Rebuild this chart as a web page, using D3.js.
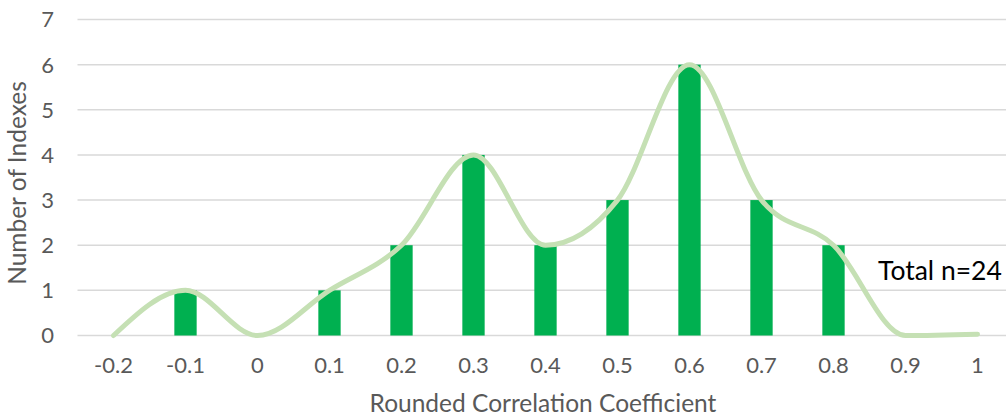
<!DOCTYPE html>
<html>
<head>
<meta charset="utf-8">
<script src="https://cdn.jsdelivr.net/npm/d3@7"></script>
<style>
  body { margin: 0; background: #fff; }
  text { font-family: Lato, "Open Sans", sans-serif; }
</style>
</head>
<body>
<div id="chart"></div>
<script>
// categories along the x axis (rounded correlation coefficient)
var categories = ["-0.2", "-0.1", "0", "0.1", "0.2", "0.3", "0.4", "0.5", "0.6", "0.7", "0.8", "0.9", "1"];
// counts per bin (bars); empty bins have no bar
var counts = [0, 1, 0, 1, 2, 4, 2, 3, 6, 3, 2, 0, 0];
// smoothed line drawn over the same values
var lineValues = [0, 1, 0, 1, 2, 4, 2, 3, 6, 3, 2, 0, 0.03];
var yTicks = [0, 1, 2, 3, 4, 5, 6, 7];

var width = 1006, height = 419;
var margin = {top: 19.5, left: 77.5, bottom: 83.5};
var plotW = 936; // 13 bands of 72px, runs past the right edge like the original

var svg = d3.select("#chart").append("svg")
  .attr("width", width)
  .attr("height", height);

var x = d3.scaleBand()
  .domain(categories)
  .range([margin.left, margin.left + plotW])
  .paddingInner(0.69)
  .paddingOuter(0.345);

var y = d3.scaleLinear()
  .domain([0, 7])
  .range([height - margin.bottom, margin.top]);

// gridlines
svg.append("g")
  .selectAll("line")
  .data(yTicks)
  .enter()
  .append("line")
  .attr("x1", margin.left)
  .attr("x2", width)
  .attr("y1", d => y(d))
  .attr("y2", d => y(d))
  .attr("stroke", "#d9d9d9")
  .attr("stroke-width", 1.5);

// y tick labels
svg.append("g")
  .selectAll("text")
  .data(yTicks)
  .enter()
  .append("text")
  .attr("x", 54)
  .attr("y", d => y(d))
  .attr("dy", "0.36em")
  .attr("text-anchor", "end")
  .attr("fill", "#595959")
  .style("font-size", "22px")
  .text(d => d);

// x tick labels
svg.append("g")
  .selectAll("text")
  .data(categories)
  .enter()
  .append("text")
  .attr("x", d => x(d) + x.bandwidth() / 2)
  .attr("y", 373)
  .attr("text-anchor", "middle")
  .attr("fill", "#595959")
  .style("font-size", "22px")
  .text(d => d);

// bars
svg.append("g")
  .selectAll("rect")
  .data(counts.map((v, i) => ({cat: categories[i], value: v})).filter(d => d.value > 0))
  .enter()
  .append("rect")
  .attr("x", d => x(d.cat))
  .attr("width", x.bandwidth())
  .attr("y", d => y(d.value))
  .attr("height", d => y(0) - y(d.value))
  .attr("fill", "#00b050");

// smoothed line
var line = d3.line()
  .x((d, i) => x(categories[i]) + x.bandwidth() / 2)
  .y(d => y(d))
  .curve(d3.curveMonotoneX);

svg.append("path")
  .datum(lineValues)
  .attr("d", line)
  .attr("fill", "none")
  .attr("stroke", "#c5e0b4")
  .attr("stroke-width", 5)
  .attr("stroke-linecap", "round");

// axis titles
svg.append("text")
  .attr("x", 543)
  .attr("y", 412)
  .attr("text-anchor", "middle")
  .attr("fill", "#595959")
  .style("font-size", "24.5px")
  .text("Rounded Correlation Coefficient");

svg.append("text")
  .attr("transform", "translate(26," + 183 + ") rotate(-90)")
  .attr("text-anchor", "middle")
  .attr("fill", "#595959")
  .style("font-size", "24.5px")
  .text("Number of Indexes");

// annotation
svg.append("text")
  .attr("x", 878)
  .attr("y", 280)
  .attr("fill", "#000")
  .style("font-size", "26.5px")
  .text("Total n=24");
</script>
</body>
</html>
